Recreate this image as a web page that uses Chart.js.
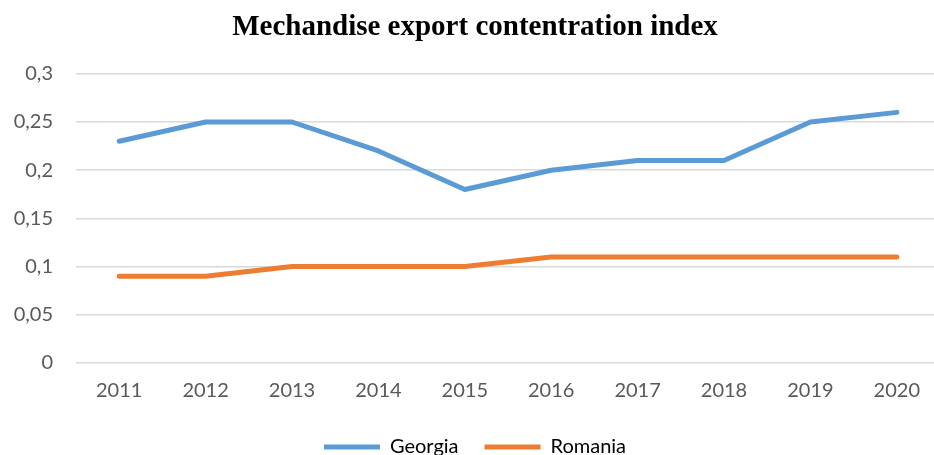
<!DOCTYPE html>
<html>
<head>
<meta charset="utf-8">
<script src="https://cdn.jsdelivr.net/npm/chart.js@4"></script>
<style>
  html, body { margin: 0; padding: 0; background: #fff; overflow: hidden; }
  #wrap { width: 966px; height: 455px; position: relative; }
</style>
</head>
<body>
<div id="wrap"><canvas id="myChart"></canvas></div>
<script>
const years = ['2011', '2012', '2013', '2014', '2015', '2016', '2017', '2018', '2019', '2020'];
const georgia = [0.23, 0.25, 0.25, 0.22, 0.18, 0.20, 0.21, 0.21, 0.25, 0.26];
const romania = [0.09, 0.09, 0.10, 0.10, 0.10, 0.11, 0.11, 0.11, 0.11, 0.11];

const tickFont = { family: 'Lato, "Open Sans", sans-serif', size: 20 };

const config = {
  type: 'line',
  data: {
    labels: years,
    datasets: [
      { label: 'Georgia', data: georgia, borderColor: '#5B9BD5', backgroundColor: '#5B9BD5' },
      { label: 'Romania', data: romania, borderColor: '#ED7D31', backgroundColor: '#ED7D31' },
    ].map(d => ({ ...d, borderWidth: 5, pointRadius: 0, tension: 0, borderCapStyle: 'round', borderJoinStyle: 'round' })),
  },
  options: {
    responsive: true,
    maintainAspectRatio: false,
    animation: false,
    layout: { padding: { left: 10, right: 26, top: 10, bottom: -12 } },
    plugins: {
      title: {
        display: true,
        text: 'Mechandise export contentration index',
        color: '#000',
        font: { family: '"Liberation Serif", "Times New Roman", serif', size: 29, weight: 'bold' },
        padding: { top: 0, bottom: 29 },
      },
      legend: {
        position: 'bottom',
        labels: {
          color: '#595959',
          font: tickFont,
          boxWidth: 56,
          boxHeight: 5,
          padding: 26,
          generateLabels: chart => chart.data.datasets.map((ds, i) => ({
            text: ds.label,
            fillStyle: ds.borderColor,
            strokeStyle: ds.borderColor,
            lineWidth: 0,
            datasetIndex: i,
          })),
        },
      },
      tooltip: { enabled: false },
    },
    scales: {
      x: {
        offset: true,
        grid: { display: false, drawTicks: false },
        border: { display: false },
        ticks: { color: '#595959', font: tickFont, padding: 16 },
        afterFit: s => { s.height = 48; },
      },
      y: {
        min: 0,
        max: 0.3,
        grid: { color: '#d9d9d9', lineWidth: 1.5, drawTicks: false },
        border: { display: false },
        ticks: {
          stepSize: 0.05,
          color: '#595959',
          font: tickFont,
          padding: 23,
          callback: v => String(Number(v.toFixed(2))).replace('.', ','),
        },
        afterFit: s => { s.width = 66; },
      },
    },
  },
};

new Chart(document.getElementById('myChart'), config);
</script>
</body>
</html>
